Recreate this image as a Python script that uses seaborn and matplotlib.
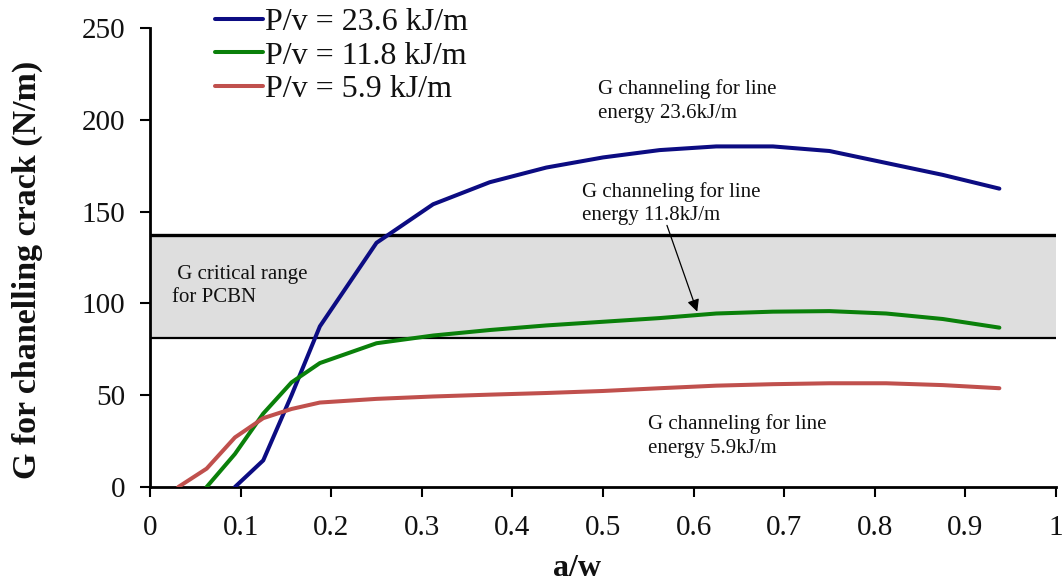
import numpy as np
import pandas as pd
import matplotlib
matplotlib.use("Agg")
import matplotlib.pyplot as plt
import seaborn as sns

# ---- data ----
x_blue = [0.09375, 0.125, 0.15625, 0.1875, 0.25, 0.3125, 0.375, 0.4375, 0.5,
          0.5625, 0.625, 0.6875, 0.75, 0.8125, 0.875, 0.9375]
g_blue = [0, 14.5, 50, 87.5, 133, 154, 166, 174, 179.5, 183.5, 185.5, 185.5,
          183, 176.5, 170, 162.5]

x_green = [0.0625, 0.09375, 0.125, 0.15625, 0.1875, 0.25, 0.3125, 0.375, 0.4375,
           0.5, 0.5625, 0.625, 0.6875, 0.75, 0.8125, 0.875, 0.9375]
g_green = [0, 18, 40, 57, 67.5, 78.3, 82.5, 85.5, 88, 90, 92, 94.5, 95.5, 95.8,
           94.5, 91.5, 86.8]

x_red = [0.03125, 0.0625, 0.09375, 0.125, 0.15625, 0.1875, 0.25, 0.3125, 0.375,
         0.4375, 0.5, 0.5625, 0.625, 0.6875, 0.75, 0.8125, 0.875, 0.9375]
g_red = [0, 10, 27, 37.5, 42.5, 46, 48, 49.3, 50.3, 51.2, 52.3, 53.8, 55.2, 56,
         56.5, 56.5, 55.5, 53.8]

series_labels = ["P/v = 23.6 kJ/m", "P/v = 11.8 kJ/m", "P/v = 5.9 kJ/m"]
colors = ["#0c0c82", "#0a800a", "#c0504d"]

g_crit_low, g_crit_high = 81, 137

x_ticks = [0, 0.1, 0.2, 0.3, 0.4, 0.5, 0.6, 0.7, 0.8, 0.9, 1]
x_ticklabels = ["0", "0.1", "0.2", "0.3", "0.4", "0.5", "0.6", "0.7", "0.8", "0.9", "1"]
y_ticks = [0, 50, 100, 150, 200, 250]

df = pd.concat([
    pd.DataFrame({"a/w": x_blue, "G": g_blue, "series": series_labels[0]}),
    pd.DataFrame({"a/w": x_green, "G": g_green, "series": series_labels[1]}),
    pd.DataFrame({"a/w": x_red, "G": g_red, "series": series_labels[2]}),
], ignore_index=True)

sns.set_theme(style="white")
plt.rcParams["font.family"] = ["Liberation Serif", "DejaVu Serif"]

fig = plt.figure(figsize=(10.64, 5.85), dpi=100)
ax = fig.add_axes([150 / 1064, 1 - 487 / 585, 906 / 1064, 459 / 585])

# critical band
ax.axhspan(g_crit_low, g_crit_high, xmin=0, xmax=1, facecolor="#dedede", edgecolor="none", zorder=0)
ax.axhline(g_crit_high, color="black", lw=2.4, zorder=1)
ax.axhline(g_crit_low, color="black", lw=1.6, zorder=1)

sns.lineplot(data=df, x="a/w", y="G", hue="series", hue_order=series_labels,
             palette=colors, estimator=None, sort=True, linewidth=2.9, ax=ax,
             legend=True, zorder=3)

ax.set_xlim(0, 1)
ax.set_ylim(0, 250)
ax.set_xticks(x_ticks)
ax.set_xticklabels(x_ticklabels)
ax.set_yticks(y_ticks)
ax.tick_params(axis="both", direction="out", length=7, width=1.5, color="black",
               labelsize=21, labelcolor="#111111", left=True, bottom=True)
ax.tick_params(axis="y", pad=11)
ax.tick_params(axis="x", pad=13)

for s in ["top", "right"]:
    ax.spines[s].set_visible(False)
for s in ["left", "bottom"]:
    ax.spines[s].set_color("black")
    ax.spines[s].set_linewidth(2)

ax.set_xlabel("a/w", fontsize=23, fontweight="bold", color="#111111")
ax.xaxis.set_label_coords((577 - 150) / 906, -0.145)
ax.set_ylabel("G for chanelling crack (N/m)", fontsize=24.5, fontweight="bold", color="#111111")
ax.yaxis.set_label_coords(-0.118, 0.473)

# legend
handles, labels = ax.get_legend_handles_labels()
leg = ax.legend(handles, labels, loc="upper left", bbox_to_anchor=(215 / 1064, 1 - 8 / 585),
                bbox_transform=fig.transFigure, frameon=False, fontsize=23,
                handlelength=1.5, handletextpad=0.05, labelspacing=0.12,
                borderpad=0, borderaxespad=0)
for t in leg.get_texts():
    t.set_color("#111111")

# annotations
ann_fs = 15
ax.text(0.494, 222, "G channeling for line\nenergy 23.6kJ/m", fontsize=ann_fs,
        va="top", ha="left", color="#111111", linespacing=1.3)
ax.text(0.4765, 166, "G channeling for line\nenergy 11.8kJ/m", fontsize=ann_fs,
        va="top", ha="left", color="#111111", linespacing=1.3)
ax.text(0.5497, 39.5, "G channeling for line\nenergy 5.9kJ/m", fontsize=ann_fs,
        va="top", ha="left", color="#111111", linespacing=1.3)
ax.text(0.0243, 121, " G critical range\nfor PCBN", fontsize=ann_fs,
        va="top", ha="left", color="#111111", linespacing=1.3)
ax.annotate("", xy=(0.604, 95.5), xytext=(0.5706, 142.5),
            arrowprops=dict(arrowstyle="-|>", color="black", lw=0.9,
                            mutation_scale=18, shrinkA=0, shrinkB=0), zorder=4)

fig.savefig("out.png", dpi=100)
